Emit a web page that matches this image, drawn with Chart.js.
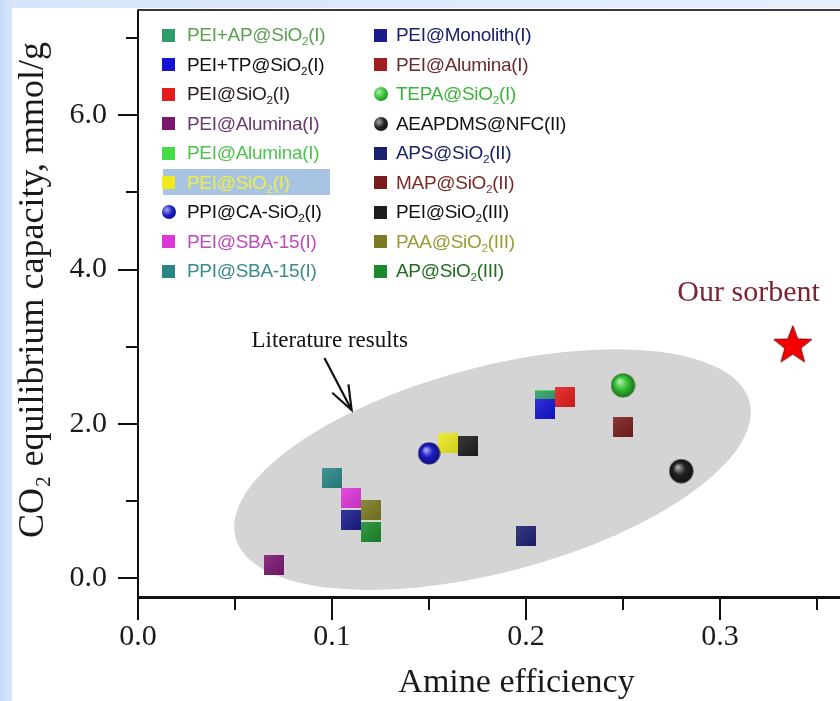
<!DOCTYPE html>
<html><head><meta charset="utf-8">
<script src="https://cdn.jsdelivr.net/npm/chart.js@4.4.0/dist/chart.umd.min.js"></script>
<style>
html,body{margin:0;padding:0;width:840px;height:701px;overflow:hidden;background:linear-gradient(90deg,#c6daf6 0,#d6e5fa 12px,#e6effc 100%);}
#panel{position:absolute;left:12px;top:8px;width:900px;height:700px;background:#fff;}
#wrap{position:absolute;left:0;top:0;width:895px;height:701px;}
#legend{position:absolute;left:0;top:0;width:0;height:0;font-family:'Liberation Sans',Arial,sans-serif;font-size:19px;letter-spacing:-0.3px;}
.item{position:absolute;height:24px;line-height:24px;white-space:nowrap;}
.mk{position:absolute;width:13px;height:13px;top:5.5px;left:0;}
.lbl{position:absolute;top:0;}
.hl{position:absolute;background:#a9c4e2;}
sub{font-size:0.62em;vertical-align:-0.3em;line-height:0;}
</style></head>
<body>
<div id="panel"></div>
<div id="wrap"><canvas id="c" width="895" height="701"></canvas></div>
<div id="legend"></div>
<script>
// ---------------- data ----------------
const SERIES_NAMES = [
  'PEI+AP@SiO2(I)', 'PEI+TP@SiO2(I)', 'PEI@SiO2(I)', 'PEI@Alumina(I)', 'PEI@Alumina(I)',
  'PEI@SiO2(I)', 'PPI@CA-SiO2(I)', 'PEI@SBA-15(I)', 'PPI@SBA-15(I)',
  'PEI@Monolith(I)', 'PEI@Alumina(I)', 'TEPA@SiO2(I)', 'AEAPDMS@NFC(II)', 'APS@SiO2(II)',
  'MAP@SiO2(II)', 'PEI@SiO2(III)', 'PAA@SiO2(III)', 'AP@SiO2(III)'
];
const AMINE_EFFICIENCY = [0.21, 0.21, 0.22, 0.07, 0.21, 0.16, 0.15, 0.11, 0.10,
                          0.11, 0.25, 0.25, 0.28, 0.20, 0.25, 0.17, 0.12, 0.12];
const CO2_CAPACITY     = [2.30, 2.19, 2.35, 0.17, 2.31, 1.76, 1.62, 1.04, 1.30,
                          0.76, 1.96, 2.50, 1.39, 0.55, 1.96, 1.71, 0.88, 0.60];
const OUR_SORBENT_NAME = 'Our sorbent';
const OUR_SORBENT_X = [0.3375];
const OUR_SORBENT_Y = [3.04];
const X_MAJOR_TICKS = [0, 0.1, 0.2, 0.3];
const X_MINOR_TICKS = [0.05, 0.15, 0.25, 0.35];
const Y_MAJOR_TICKS = [0, 2, 4, 6];
const Y_MINOR_TICKS = [1, 3, 5, 7];
const X_TITLE = 'Amine efficiency';
const Y_TITLE = 'CO\u2082 equilibrium capacity, mmol/g';
const NOTE_LITERATURE = 'Literature results';

// ---------------- styles ----------------
const MARKER_COLORS = ['#2f9c6c', '#1414d2', '#e41c1c', '#7a1870', '#46dc46', '#eeea22', '#1c1cc8', '#de36d8', '#2a8686',
                       '#1c1c8c', '#a01e1e', '#34c434', '#222222', '#1c2070', '#7a1c1c', '#1e1e1e', '#7c7a22', '#1c8a2c'];
const MARKER_SHAPES = ['sq','sq','sq','sq','sq','sq','ball','sq','sq','sq','sq','ball','ball','sq','sq','sq','sq','sq'];
const TEXT_COLORS = ['#5a9e50', '#111111', '#2a1a1a', '#6a3a6e', '#4cc44c', '#eeee44', '#111111', '#c048c0', '#3a8c8c',
                     '#1c2070', '#6a2a2a', '#3cb43c', '#111111', '#1c2466', '#7a2a2a', '#111111', '#9a9a34', '#1e6e1e'];
const DRAW_ORDER = [1, 0, 0, 0, 2, 0, -1, 0, 0, 0, 2, 0, 0, 0, 0, 0, 0, 0];
const ELLIPSE = {cx: 0.1827, cy: 1.41, rx: 0.137, ry: 0.053, rotDeg: -14.8, color: '#d4d4d4'};
const NOTE_LIT_POS = {x: 0.0585, y: 3.0};
const ARROW_POS = {x0: 0.0961, y0: 2.853, x1: 0.1101, y1: 2.18};
const NOTE_OUR_POS = {x: 0.278, y: 3.596};
const SERIF = "'Liberation Serif','Times New Roman',serif";

// ---------------- marker images ----------------
function shade(hex, f){
  const n = parseInt(hex.slice(1),16); let r=(n>>16)&255,g=(n>>8)&255,b=n&255;
  if (f>0){r+= (255-r)*f; g+=(255-g)*f; b+=(255-b)*f;} else {r*=1+f; g*=1+f; b*=1+f;}
  return `rgb(${r|0},${g|0},${b|0})`;
}
function makeSquare(color, s){
  const c=document.createElement('canvas'); c.width=s; c.height=s;
  const x=c.getContext('2d');
  const g=x.createLinearGradient(0,0,s,s);
  g.addColorStop(0,shade(color,0.12)); g.addColorStop(1,shade(color,-0.12));
  x.fillStyle=g; x.fillRect(0,0,s,s);
  return c;
}
function makeBall(color, d){
  const c=document.createElement('canvas'); c.width=d; c.height=d;
  const x=c.getContext('2d');
  const g=x.createRadialGradient(d*0.36,d*0.34,d*0.04,d*0.5,d*0.5,d*0.5);
  g.addColorStop(0,shade(color,0.6)); g.addColorStop(0.45,color); g.addColorStop(1,shade(color,-0.45));
  x.fillStyle=g; x.beginPath(); x.arc(d/2,d/2,d/2-0.5,0,Math.PI*2); x.fill();
  return c;
}
function makeStar(size){
  const c=document.createElement('canvas'); c.width=size; c.height=size;
  const x=c.getContext('2d'); const R=size/2-1, r=R*0.42, cx=size/2, cy=size/2+2;
  x.beginPath();
  for(let i=0;i<10;i++){const a=-Math.PI/2+i*Math.PI/5; const rr=i%2?r:R; x.lineTo(cx+rr*Math.cos(a), cy+rr*Math.sin(a));}
  x.closePath(); x.fillStyle='#f40000'; x.fill(); x.strokeStyle='#7a0a0a'; x.lineWidth=1; x.stroke();
  return c;
}

const datasets = SERIES_NAMES.map((name,i)=>({
  label: name,
  data: [{x: AMINE_EFFICIENCY[i], y: CO2_CAPACITY[i]}],
  pointStyle: MARKER_SHAPES[i]==='ball' ? makeBall(MARKER_COLORS[i], i===6?23:25) : makeSquare(MARKER_COLORS[i], 20),
  radius: 10,
  order: DRAW_ORDER[i]
}));
datasets.push({
  label: OUR_SORBENT_NAME,
  data: OUR_SORBENT_X.map((v,i)=>({x:v, y:OUR_SORBENT_Y[i]})),
  pointStyle: makeStar(42), radius: 20, order: -2
});

// ---------------- decorations plugin ----------------
const decor = {
  id: 'decor',
  beforeDatasetsDraw(chart){
    const {ctx, scales:{x,y}} = chart;
    const ppx = x.getPixelForValue(1) - x.getPixelForValue(0);
    ctx.save();
    ctx.beginPath();
    ctx.ellipse(x.getPixelForValue(ELLIPSE.cx), y.getPixelForValue(ELLIPSE.cy), ELLIPSE.rx*ppx, ELLIPSE.ry*ppx,
                ELLIPSE.rotDeg*Math.PI/180, 0, Math.PI*2);
    ctx.fillStyle = ELLIPSE.color; ctx.fill();
    ctx.restore();
  },
  afterDraw(chart){
    const {ctx, chartArea:a, scales:{x,y}} = chart;
    ctx.save();
    ctx.strokeStyle = '#111'; ctx.lineWidth = 2; ctx.lineCap = 'butt';
    const ln=(x0,y0,x1,y1)=>{ctx.beginPath();ctx.moveTo(x0,y0);ctx.lineTo(x1,y1);ctx.stroke();};
    Y_MAJOR_TICKS.forEach(v=>{const p=Math.round(y.getPixelForValue(v)); ln(a.left-20,p,a.left,p);});
    Y_MINOR_TICKS.forEach(v=>{const p=Math.round(y.getPixelForValue(v)); ln(a.left-12,p,a.left,p);});
    X_MAJOR_TICKS.forEach(v=>{const p=Math.round(x.getPixelForValue(v)); ln(p,a.bottom,p,a.bottom+23);});
    X_MINOR_TICKS.forEach(v=>{const p=Math.round(x.getPixelForValue(v)); ln(p,a.bottom,p,a.bottom+13);});
    ctx.strokeStyle = '#3a3a3a'; ln(a.left-1, a.top, a.right, a.top);
    // annotation: literature results
    ctx.fillStyle = '#111'; ctx.font = '23px ' + SERIF; ctx.textBaseline = 'alphabetic'; ctx.textAlign = 'left';
    ctx.fillText(NOTE_LITERATURE, x.getPixelForValue(NOTE_LIT_POS.x), y.getPixelForValue(NOTE_LIT_POS.y));
    const ax0=x.getPixelForValue(ARROW_POS.x0), ay0=y.getPixelForValue(ARROW_POS.y0);
    const ax1=x.getPixelForValue(ARROW_POS.x1), ay1=y.getPixelForValue(ARROW_POS.y1);
    ctx.strokeStyle='#111'; ctx.lineWidth=2.2; ln(ax0,ay0,ax1,ay1);
    const ang=Math.atan2(ay0-ay1, ax0-ax1), L=26, sp=0.36;
    ctx.beginPath(); ctx.moveTo(ax1+L*Math.cos(ang-sp), ay1+L*Math.sin(ang-sp)); ctx.lineTo(ax1,ay1);
    ctx.lineTo(ax1+L*Math.cos(ang+sp), ay1+L*Math.sin(ang+sp)); ctx.stroke();
    // annotation: our sorbent
    ctx.fillStyle = '#7c2434'; ctx.font = '30px ' + SERIF;
    ctx.fillText(OUR_SORBENT_NAME, x.getPixelForValue(NOTE_OUR_POS.x), y.getPixelForValue(NOTE_OUR_POS.y));
    ctx.restore();
  }
};

Chart.defaults.font.family = SERIF;
Chart.defaults.color = '#1a1a1a';

new Chart(document.getElementById('c'), {
  type: 'scatter',
  data: {datasets},
  options: {
    responsive: false, animation: false, devicePixelRatio: 1,
    layout: {autoPadding: false, padding: {left: 0, top: 10, right: 0, bottom: 0}},
    plugins: {legend: {display: false}, tooltip: {enabled: false}},
    scales: {
      x: {
        type: 'linear', min: 0, max: 0.3902,
        afterBuildTicks: s => { s.ticks = X_MAJOR_TICKS.map(v=>({value:v})); },
        afterFit: s => { s.height = 104; s.paddingLeft = 0; s.paddingRight = 0; },
        ticks: {callback: v => Number(v).toFixed(1), font: {size: 30, lineHeight: 1}, padding: 25, color: '#1a1a1a', maxRotation: 0},
        grid: {display: true, drawOnChartArea: false, drawTicks: false, color: 'rgba(0,0,0,0)'},
        border: {display: true, color: '#111', width: 3},
        title: {display: true, text: X_TITLE, font: {size: 34, lineHeight: 1}, color: '#1a1a1a', padding: {top: 0, bottom: 1}}
      },
      y: {
        type: 'linear', min: -0.24, max: 7.36,
        afterBuildTicks: s => { s.ticks = Y_MAJOR_TICKS.map(v=>({value:v})); },
        afterFit: s => { s.width = 138; s.paddingTop = 0; s.paddingBottom = 0; },
        ticks: {callback: v => Number(v).toFixed(1), font: {size: 30, lineHeight: 1}, padding: 31, color: '#1a1a1a'},
        grid: {display: true, drawOnChartArea: false, drawTicks: false, color: 'rgba(0,0,0,0)'},
        border: {display: true, color: '#111', width: 2},
        title: {display: true, text: '   ' + Y_TITLE, font: {size: 36, lineHeight: 1}, color: '#1a1a1a', padding: {top: 16, bottom: 0}}
      }
    }
  },
  plugins: [decor]
});

// ---------------- HTML legend ----------------
const LEG_COLS = [{mx: 168.5, tx: 187}, {mx: 380, tx: 396}];
const LEG_ROW0 = 35, LEG_STEP = 29.5, LEG_PER_COL = 9;
const leg = document.getElementById('legend');
const hl = document.createElement('div'); hl.className='hl';
Object.assign(hl.style,{left:'163px',top:'169px',width:'167px',height:'26px'}); leg.appendChild(hl);
SERIES_NAMES.forEach((name,i)=>{
  const col = LEG_COLS[Math.floor(i/LEG_PER_COL)], row = i % LEG_PER_COL;
  const cy = LEG_ROW0 + row*LEG_STEP;
  const it = document.createElement('div'); it.className='item';
  it.style.left = (col.mx-6.5)+'px'; it.style.top = (cy-12)+'px';
  const mk = document.createElement('span'); mk.className='mk';
  if (MARKER_SHAPES[i]==='ball'){
    mk.style.borderRadius='50%'; mk.style.width='14px'; mk.style.height='14px'; mk.style.top='5px';
    mk.style.background=`radial-gradient(circle at 35% 35%, ${shade(MARKER_COLORS[i],0.6)}, ${MARKER_COLORS[i]} 45%, ${shade(MARKER_COLORS[i],-0.45)})`;
  } else mk.style.background = MARKER_COLORS[i];
  const lb = document.createElement('span'); lb.className='lbl';
  lb.style.left = (col.tx - col.mx + 6.5)+'px'; lb.style.color = TEXT_COLORS[i];
  lb.innerHTML = name.replace(/SiO2/g,'SiO<sub>2</sub>');
  it.appendChild(mk); it.appendChild(lb); leg.appendChild(it);
});
</script>
</body></html>
